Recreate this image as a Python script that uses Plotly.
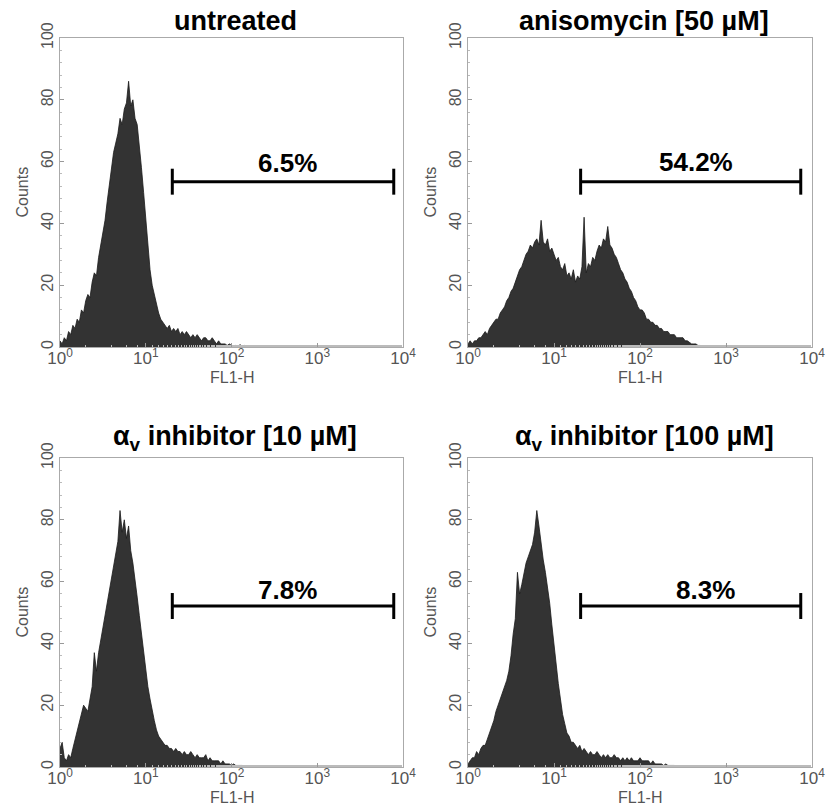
import math
import plotly.graph_objects as go

# ---------------- data ----------------
bin_step = 0.025  # channel width in decades (log10 units)

untreated = [2, 1, 3, 2, 5, 4, 7, 6, 9, 8, 12, 11, 15, 17, 16, 21, 24, 23, 29, 33,
             38, 41, 47, 52, 57, 63, 66, 69, 74, 72, 77, 79, 86, 78, 80, 74, 72, 66, 58, 50,
             41, 31, 25, 20, 17, 13, 11, 9, 8, 7, 6, 7, 5, 6, 5, 6, 4, 5, 4, 5,
             4, 3, 4, 3, 4, 3, 2, 3, 3, 2, 2, 3, 2, 1, 2, 1, 1, 1, 0.5, 1,
             0.5, 0.3, 0.5, 0, 0.8, 0, 0.5, 0, 0.4, 0, 0.4, 0, 0, 0.4, 0, 0, 0, 0, 0, 0]

anisomycin = [1, 2, 1, 2, 2, 3, 3, 4, 5, 4, 6, 7, 8, 9, 9, 11, 12, 13, 15, 16,
              18, 19, 21, 23, 25, 26, 28, 30, 31, 33, 32, 34, 35, 33, 41, 34, 33, 35, 31, 32,
              30, 28, 29, 26, 25, 27, 23, 24, 22, 25, 21, 23, 22, 26, 42, 24, 27, 26, 29, 28,
              31, 33, 32, 35, 34, 39, 33, 32, 30, 29, 27, 25, 24, 22, 21, 19, 18, 16, 15, 13,
              12, 12, 11, 9, 9, 8, 8, 7, 7, 6, 6, 5, 5, 5, 4, 4, 4, 3, 3, 3,
              3, 2, 2, 1.5, 1, 1, 1, 0.5, 0.5, 0, 0.4, 0, 0.3, 0, 0.4, 0, 0, 0.3, 0, 0]

inhib_10 = [6, 8, 3, 2, 4, 3, 6, 9, 11, 14, 17, 20, 19, 18, 22, 26, 37, 31, 37, 41,
            46, 49, 53, 58, 62, 66, 70, 73, 83, 76, 80, 74, 78, 70, 66, 61, 55, 49, 43, 37,
            31, 26, 22, 18, 15, 12, 10, 9, 8, 7, 7, 6, 6, 5, 6, 5, 5, 4, 5, 4,
            4, 5, 4, 3, 4, 3, 3, 3, 4, 2, 3, 2, 2, 2, 2, 1, 2, 1, 1, 1,
            0.5, 1, 0.5, 0.5, 0.3, 0.5, 0, 0.3, 0, 0.3, 0, 0, 0, 0, 0, 0, 0.4, 0, 0, 0]

inhib_100 = [1, 2, 3, 3, 5, 4, 6, 7, 7, 9, 11, 13, 15, 18, 20, 22, 24, 26, 28, 31,
             36, 43, 48, 63, 56, 59, 63, 66, 68, 70, 72, 76, 83, 78, 72, 67, 63, 58, 53, 46,
             39, 33, 27, 22, 17, 14, 11, 10, 8, 8, 7, 6, 7, 5, 6, 5, 4, 5, 4, 4,
             5, 4, 3, 4, 3, 4, 3, 3, 4, 3, 3, 2, 3, 2, 3, 2, 3, 2, 2, 2,
             3, 2, 2, 2, 2, 1, 2, 1, 1, 1, 1, 0.5, 1, 0.5, 0.5, 0.3, 0.5, 0, 0.4, 0, 0.3, 0, 0, 0]

panel_titles = ["untreated", "anisomycin [50 µM]",
                "α<sub>v</sub> inhibitor [10 µM]", "α<sub>v</sub> inhibitor [100 µM]"]
panel_counts = [untreated, anisomycin, inhib_10, inhib_100]
percent_labels = ["6.5%", "54.2%", "7.8%", "8.3%"]
gate_low = [20.4, 20.4, 20.4, 20.4]
gate_high = [7800, 7400, 7800, 7400]
gate_level = [53.5, 53.5, 52.1, 52.1]
label_x = [447, 447, 447, 575]
label_y = [59.5, 60.0, 57.3, 57.3]

x_tick_vals = [1, 10, 100, 1000, 10000]
x_tick_text = ["10<sup>0</sup>", "10<sup>1</sup>", "10<sup>2</sup>", "10<sup>3</sup>", "10<sup>4</sup>"]
y_tick_vals = [0, 20, 40, 60, 80, 100]
x_title = "FL1-H"
y_title = "Counts"

# ---------------- layout geometry ----------------
W, H = 826, 812
x_px = [(60, 403), (468, 812)]
y_px = [(38, 347), (458, 767)]
x_domains = [[a / W, b / W] for a, b in x_px]
y_domains = [[1 - b / H, 1 - a / H] for a, b in y_px]
title_y_px = [21, 438]
xtitle_y_px = [377, 797]
ytitle_x_px = [22, 430]

FONT = "Liberation Sans, Arial, sans-serif"
GREY = "#555555"
fig = go.Figure()
layout = dict(width=W, height=H, margin=dict(l=0, r=0, t=0, b=0, autoexpand=False),
              paper_bgcolor="white", plot_bgcolor="white", showlegend=False,
              font=dict(family=FONT, color=GREY))
annotations = []

for k in range(4):
    row, col = divmod(k, 2)
    ax = "" if k == 0 else str(k + 1)
    xa, ya = "x" + ax, "y" + ax
    counts = panel_counts[k]
    xs = [10 ** (i * bin_step) for i in range(len(counts))]
    fig.add_trace(go.Scatter(x=xs, y=counts, xaxis=xa, yaxis=ya, mode="lines",
                             fill="tozeroy", fillcolor="#333333",
                             line=dict(color="#1a1a1a", width=0.8), hoverinfo="skip"))
    lo, hi, gy = gate_low[k], gate_high[k], gate_level[k]
    fig.add_trace(go.Scatter(x=[lo, hi, None, lo, lo, None, hi, hi],
                             y=[gy, gy, None, gy - 4.2, gy + 4.2, None, gy - 4.2, gy + 4.2],
                             xaxis=xa, yaxis=ya, mode="lines",
                             line=dict(color="black", width=3), hoverinfo="skip"))
    layout["xaxis" + ax] = dict(
        type="log", range=[0, 4], domain=x_domains[col], anchor=ya, automargin=False,
        tickvals=x_tick_vals, ticktext=x_tick_text, tickfont=dict(size=17, color=GREY),
        ticklabelstandoff=-4,
        ticks="inside", ticklen=4, tickcolor="#999999",
        minor=dict(ticks="inside", ticklen=2, tickcolor="#bbbbbb", showgrid=False),
        showline=True, linecolor="#aaaaaa", linewidth=1, mirror=True,
        showgrid=False, zeroline=False)
    layout["yaxis" + ax] = dict(
        range=[0, 100], domain=y_domains[row], anchor=xa, automargin=False,
        tickvals=y_tick_vals, tickangle=-90, tickfont=dict(size=16, color=GREY),
        ticks="inside", ticklen=4, tickcolor="#999999",
        minor=dict(ticks="inside", ticklen=2, dtick=4, tickcolor="#bbbbbb", showgrid=False),
        showline=True, linecolor="#aaaaaa", linewidth=1, mirror=True,
        showgrid=False, zeroline=False)
    xc = (x_domains[col][0] + x_domains[col][1]) / 2
    annotations.append(dict(xref="paper", yref="paper", x=xc + 4 / W, y=1 - title_y_px[row] / H,
                            text="<b>" + panel_titles[k] + "</b>", showarrow=False,
                            xanchor="center", yanchor="middle",
                            font=dict(family=FONT, size=27, color="black")))
    annotations.append(dict(xref="paper", yref="paper", x=xc, y=1 - xtitle_y_px[row] / H,
                            text=x_title, showarrow=False, xanchor="center", yanchor="middle",
                            font=dict(family=FONT, size=16, color=GREY)))
    annotations.append(dict(xref="paper", yref="paper", x=ytitle_x_px[col] / W,
                            y=(y_domains[row][0] + y_domains[row][1]) / 2,
                            text=y_title, textangle=-90, showarrow=False,
                            xanchor="center", yanchor="middle",
                            font=dict(family=FONT, size=16, color=GREY)))
    annotations.append(dict(xref=xa, yref=ya, x=math.log10(label_x[k]), y=label_y[k],
                            text="<b>" + percent_labels[k] + "</b>", showarrow=False,
                            xanchor="center", yanchor="middle",
                            font=dict(family=FONT, size=26, color="black")))

layout["annotations"] = annotations
fig.update_layout(**layout)
fig.write_html("out.html", config={"displayModeBar": False},
               post_script="document.body.style.margin='0';")
